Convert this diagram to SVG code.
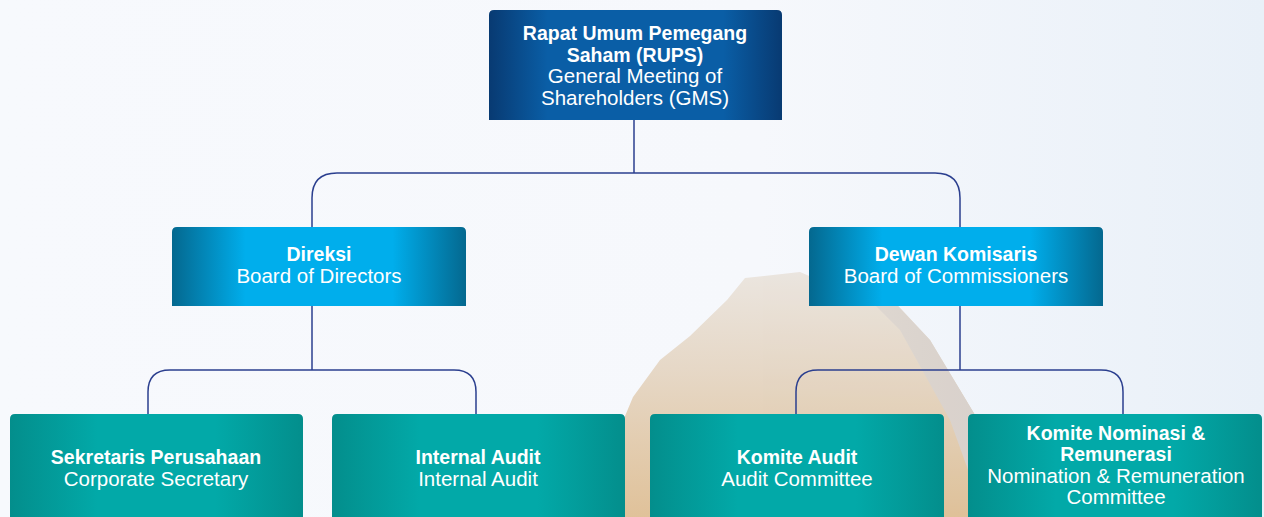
<svg xmlns="http://www.w3.org/2000/svg" width="1264" height="517" viewBox="0 0 1264 517">
<defs>
<linearGradient id="bg" x1="0" y1="0" x2="1" y2="0">
<stop offset="0" stop-color="#f7f9fd"/>
<stop offset="0.6" stop-color="#f6f8fc"/>
<stop offset="1" stop-color="#e9f0f8"/>
</linearGradient>
<linearGradient id="rock" x1="0" y1="0" x2="0" y2="1">
<stop offset="0" stop-color="#e9e2da"/>
<stop offset="0.4" stop-color="#e3d2bd"/>
<stop offset="1" stop-color="#dcb888"/>
</linearGradient>
<linearGradient id="rockR" x1="0" y1="0" x2="1" y2="0">
<stop offset="0" stop-color="#dcd3ca"/>
<stop offset="1" stop-color="#d2c9c2"/>
</linearGradient>
<linearGradient id="gTop" x1="0" y1="0" x2="1" y2="0">
<stop offset="0" stop-color="#083a72"/>
<stop offset="0.2" stop-color="#0a5ea6"/>
<stop offset="0.8" stop-color="#0a5ea6"/>
<stop offset="1" stop-color="#083a72"/>
</linearGradient>
<linearGradient id="gMid" x1="0" y1="0" x2="1" y2="0">
<stop offset="0" stop-color="#04688f"/>
<stop offset="0.25" stop-color="#00aeec"/>
<stop offset="0.75" stop-color="#00aeec"/>
<stop offset="1" stop-color="#04688f"/>
</linearGradient>
<linearGradient id="gBot" x1="0" y1="0" x2="1" y2="0">
<stop offset="0" stop-color="#038e8c"/>
<stop offset="0.3" stop-color="#02a9a8"/>
<stop offset="0.7" stop-color="#02a9a8"/>
<stop offset="1" stop-color="#038e8c"/>
</linearGradient>
<style>
.t{font-family:"Liberation Sans",Arial,sans-serif;fill:#ffffff;text-anchor:middle;font-size:20.5px;}
.b{font-weight:bold;font-size:19.5px;}
.c{fill:none;stroke:#2b3f8f;stroke-width:1.5;}
</style>
</defs>
<rect x="0" y="0" width="1264" height="517" fill="url(#bg)"/>
<g id="background-rock" opacity="0.85">
<path d="M618,517 L615,440 L633,397 L660,360 L690,336 L727,300 L745,278 L800,272 L830,285 L885,292 L930,340 L975,415 L1010,517 Z" fill="url(#rock)"/>
<path d="M860,290 L885,292 L930,340 L975,415 L1010,517 L985,517 L950,420 L900,330 Z" fill="url(#rockR)"/>
</g>
<g id="connectors">
<path class="c" d="M634,120 V173"/>
<path class="c" d="M312,227 V198 Q312,173 337,173 H935 Q960,173 960,198 V227"/>
<path class="c" d="M312,306 V370"/>
<path class="c" d="M148,414 V392 Q148,370 170,370 H454 Q476,370 476,392 V414"/>
<path class="c" d="M960,306 V370"/>
<path class="c" d="M796,414 V392 Q796,370 818,370 H1101 Q1123,370 1123,392 V414"/>
</g>
<g id="node-rups">
<path d="M489,120 V15 Q489,10 494,10 H777 Q782,10 782,15 V120 Z" fill="url(#gTop)"/>
<text class="t b" x="635" y="40">Rapat Umum Pemegang</text>
<text class="t b" x="635" y="62">Saham (RUPS)</text>
<text class="t" x="635" y="83">General Meeting of</text>
<text class="t" x="635" y="105">Shareholders (GMS)</text>
</g>
<g id="node-direksi">
<path d="M172,306 V232 Q172,227 177,227 H461 Q466,227 466,232 V306 Z" fill="url(#gMid)"/>
<text class="t b" x="319" y="261">Direksi</text>
<text class="t" x="319" y="283">Board of Directors</text>
</g>
<g id="node-komisaris">
<path d="M809,306 V232 Q809,227 814,227 H1098 Q1103,227 1103,232 V306 Z" fill="url(#gMid)"/>
<text class="t b" x="956" y="261">Dewan Komisaris</text>
<text class="t" x="956" y="283">Board of Commissioners</text>
</g>
<g id="node-sekretaris">
<path d="M10,517 V419 Q10,414 15,414 H298 Q303,414 303,419 V517 Z" fill="url(#gBot)"/>
<text class="t b" x="156" y="464">Sekretaris Perusahaan</text>
<text class="t" x="156" y="486">Corporate Secretary</text>
</g>
<g id="node-internal-audit">
<path d="M332,517 V419 Q332,414 337,414 H620 Q625,414 625,419 V517 Z" fill="url(#gBot)"/>
<text class="t b" x="478" y="464">Internal Audit</text>
<text class="t" x="478" y="486">Internal Audit</text>
</g>
<g id="node-komite-audit">
<path d="M650,517 V419 Q650,414 655,414 H939 Q944,414 944,419 V517 Z" fill="url(#gBot)"/>
<text class="t b" x="797" y="464">Komite Audit</text>
<text class="t" x="797" y="486">Audit Committee</text>
</g>
<g id="node-komite-nominasi">
<path d="M968,517 V419 Q968,414 973,414 H1257 Q1262,414 1262,419 V517 Z" fill="url(#gBot)"/>
<text class="t b" x="1116" y="440">Komite Nominasi &amp;</text>
<text class="t b" x="1116" y="461">Remunerasi</text>
<text class="t" x="1116" y="483">Nomination &amp; Remuneration</text>
<text class="t" x="1116" y="504">Committee</text>
</g>
</svg>
